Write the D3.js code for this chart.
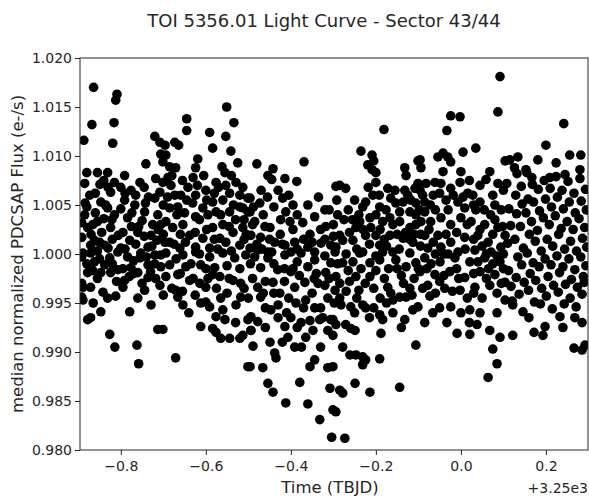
<!DOCTYPE html>
<html>
<head>
<meta charset="utf-8">
<script src="https://cdn.jsdelivr.net/npm/d3@7"></script>
<style>
  body { margin: 0; background: #fff; }
  text { font-family: "DejaVu Sans", sans-serif; fill: #262626; }
</style>
</head>
<body>
<svg id="chart" width="589" height="498"></svg>
<script>
// time offsets from 3250 TBJD, median normalized flux
const lightCurve = [
  [-0.864,1.0170],[-0.809,1.0163],[-0.812,1.0157],[-0.868,1.0132],[-0.816,1.0134],[-0.887,1.0116],[-0.819,1.0113],
  [-0.720,1.0120],[-0.708,1.0114],[-0.706,1.0102],[-0.741,1.0092],[-0.880,1.0083],[-0.855,1.0083],[-0.831,1.0083],
  [-0.791,1.0080],[-0.849,1.0071],[-0.755,1.0073],[-0.776,1.0065],[-0.718,1.0077],[-0.701,1.0073],[-0.873,1.0060],
  [-0.824,1.0063],[-0.708,1.0063],[-0.720,1.0057],[-0.885,1.0040],[-0.847,1.0053],[-0.831,1.0047],[-0.800,1.0046],
  [-0.855,1.0033],[-0.784,1.0037],[-0.744,1.0043],[-0.713,1.0040],[-0.706,1.0030],[-0.878,1.0027],[-0.824,1.0027],
  [-0.760,1.0022],[-0.729,1.0019],[-0.871,1.0009],[-0.800,1.0006],[-0.736,1.0007],[-0.696,1.0012],[-0.889,1.0001],
  [-0.871,1.0001],[-0.807,1.0002],[-0.784,0.9997],[-0.753,1.0001],[-0.706,0.9999],[-0.838,0.9989],[-0.807,0.9984],
  [-0.776,0.9986],[-0.736,0.9989],[-0.706,0.9987],[-0.878,0.9981],[-0.847,0.9981],[-0.824,0.9981],[-0.760,0.9981],
  [-0.889,0.9966],[-0.871,0.9966],[-0.889,0.9953],[-0.842,0.9961],[-0.831,0.9955],[-0.795,0.9966],[-0.736,0.9976],
  [-0.729,0.9948],[-0.847,0.9941],[-0.779,0.9941],[-0.878,0.9933],[-0.871,0.9935],[-0.713,0.9923],[-0.826,0.9918],
  [-0.814,0.9905],[-0.762,0.9907],[-0.758,0.9888],[-0.892,1.0032],[-0.892,1.0017],[-0.892,0.9997],[-0.892,0.9970],
  [-0.892,0.9956],[-0.791,1.0055],[-0.767,1.0050],[-0.862,1.0014],[-0.838,1.0009],[-0.779,1.0014],[-0.755,0.9996],
  [-0.720,0.9999],[-0.826,0.9996],[-0.862,0.9992],[-0.791,0.9973],[-0.744,0.9963],[-0.708,0.9968],
  [-0.880,1.0048],[-0.860,1.0042],[-0.840,1.0036],[-0.815,1.0040],[-0.775,1.0028],[-0.750,1.0034],[-0.725,1.0030],
  [-0.870,1.0020],[-0.845,1.0022],[-0.820,1.0015],[-0.795,1.0022],[-0.765,1.0010],[-0.745,1.0018],[-0.715,1.0014],
  [-0.855,1.0003],[-0.830,1.0006],[-0.770,0.9993],[-0.740,0.9997],[-0.720,0.9990],[-0.880,0.9990],[-0.855,0.9975],
  [-0.810,0.9972],[-0.780,0.9977],[-0.750,0.9970],[-0.718,0.9975],[-0.865,0.9950],[-0.812,0.9957],[-0.760,0.9955],
  [-0.700,0.9958],[-0.800,1.0068],[-0.765,1.0060],[-0.735,1.0058],[-0.860,1.0062],[-0.840,1.0075],[-0.815,1.0073],
  [-0.700,1.0050],[-0.700,1.0020],
  [-0.884,1.0052],[-0.866,1.0030],[-0.850,1.0012],[-0.836,1.0050],[-0.821,1.0035],[-0.806,1.0019],[-0.790,1.0005],
  [-0.774,1.0042],[-0.758,1.0028],[-0.742,1.0052],[-0.727,1.0008],[-0.712,1.0025],[-0.866,0.9983],[-0.850,0.9995],
  [-0.820,0.9990],[-0.795,0.9985],[-0.770,0.9980],[-0.730,0.9982],[-0.885,1.0072],[-0.830,1.0068],[-0.790,1.0062],
  [-0.745,1.0068],
  [-0.551,1.0150],[-0.534,1.0134],[-0.645,1.0138],[-0.645,1.0126],[-0.591,1.0124],[-0.553,1.0120],[-0.584,1.0108],
  [-0.541,1.0105],[-0.673,1.0114],[-0.664,1.0111],[-0.525,1.0093],[-0.619,1.0097],[-0.624,1.0088],[-0.562,1.0089],
  [-0.555,1.0083],[-0.696,1.0111],[-0.694,1.0101],[-0.701,1.0094],[-0.685,1.0089],[-0.671,1.0088],[-0.689,1.0078],
  [-0.682,1.0070],[-0.576,1.0073],[-0.642,1.0068],[-0.600,1.0065],[-0.624,1.0060],[-0.553,1.0070],[-0.529,1.0073],
  [-0.513,1.0068],[-0.673,1.0060],[-0.659,1.0060],[-0.584,1.0053],[-0.631,1.0052],[-0.544,1.0062],[-0.520,1.0060],
  [-0.496,1.0057],[-0.685,1.0047],[-0.666,1.0048],[-0.607,1.0047],[-0.576,1.0043],[-0.624,1.0038],[-0.544,1.0043],
  [-0.513,1.0047],[-0.496,1.0043],[-0.694,1.0033],[-0.678,1.0027],[-0.654,1.0030],[-0.638,1.0019],[-0.584,1.0027],
  [-0.560,1.0030],[-0.536,1.0022],[-0.513,1.0027],[-0.607,1.0016],[-0.567,1.0016],[-0.685,1.0012],[-0.661,1.0006],
  [-0.624,1.0007],[-0.591,1.0006],[-0.553,1.0012],[-0.520,1.0009],[-0.496,1.0006],[-0.694,1.0001],[-0.654,0.9999],
  [-0.624,1.0002],[-0.591,0.9997],[-0.560,1.0001],[-0.532,0.9996],[-0.506,0.9999],[-0.685,0.9989],[-0.647,0.9987],
  [-0.612,0.9989],[-0.579,0.9986],[-0.567,0.9977],[-0.638,0.9973],[-0.614,0.9970],[-0.600,0.9966],[-0.584,0.9979],
  [-0.666,0.9979],[-0.694,0.9977],[-0.671,0.9963],[-0.666,0.9956],[-0.654,0.9948],[-0.600,0.9951],[-0.591,0.9946],
  [-0.565,0.9955],[-0.536,0.9973],[-0.518,0.9970],[-0.518,0.9956],[-0.529,0.9948],[-0.576,0.9936],[-0.555,0.9933],
  [-0.612,0.9926],[-0.584,0.9924],[-0.576,0.9920],[-0.565,0.9914],[-0.544,0.9914],[-0.520,0.9914],[-0.513,0.9917],
  [-0.501,0.9933],[-0.494,0.9922],[-0.701,0.9923],[-0.671,0.9894],[-0.501,0.9885],
  [-0.680,1.0080],[-0.655,1.0075],[-0.630,1.0078],[-0.605,1.0080],[-0.580,1.0062],[-0.560,1.0055],[-0.535,1.0050],
  [-0.510,1.0035],[-0.650,1.0042],[-0.615,1.0035],[-0.595,1.0040],[-0.565,1.0040],[-0.530,1.0035],[-0.660,1.0020],
  [-0.625,1.0022],[-0.580,1.0015],[-0.540,1.0003],[-0.510,1.0015],[-0.670,0.9995],[-0.635,0.9990],[-0.600,0.9985],
  [-0.550,0.9988],[-0.520,0.9985],[-0.680,0.9965],[-0.625,0.9958],[-0.575,0.9965],[-0.550,0.9960],[-0.640,0.9940],
  [-0.560,0.9943],[-0.530,0.9930],
  [-0.690,1.0058],[-0.668,1.0040],[-0.645,1.0055],[-0.620,1.0070],[-0.598,1.0055],[-0.570,1.0068],[-0.540,1.0080],
  [-0.520,1.0048],[-0.675,1.0010],[-0.648,1.0012],[-0.615,1.0000],[-0.598,1.0025],[-0.572,1.0005],[-0.545,1.0028],
  [-0.505,1.0020],[-0.660,0.9980],[-0.630,0.9975],[-0.595,0.9975],[-0.545,0.9975],[-0.510,0.9965],[-0.655,0.9962],
  [-0.612,0.9950],
  [-0.369,1.0094],[-0.480,1.0092],[-0.442,1.0087],[-0.454,1.0080],[-0.445,1.0076],[-0.414,1.0077],[-0.386,1.0074],
  [-0.294,1.0069],[-0.419,1.0057],[-0.501,1.0057],[-0.473,1.0052],[-0.320,1.0045],[-0.344,1.0038],[-0.372,1.0032],
  [-0.318,1.0028],[-0.412,1.0043],[-0.424,1.0035],[-0.402,1.0033],[-0.501,1.0043],[-0.485,1.0033],[-0.461,1.0028],
  [-0.449,1.0027],[-0.494,1.0019],[-0.471,1.0017],[-0.438,1.0012],[-0.414,1.0009],[-0.391,1.0012],[-0.360,1.0007],
  [-0.329,1.0011],[-0.306,1.0009],[-0.478,1.0004],[-0.454,1.0002],[-0.400,1.0002],[-0.344,1.0002],[-0.296,1.0002],
  [-0.485,0.9997],[-0.454,0.9996],[-0.414,0.9999],[-0.376,1.0001],[-0.344,0.9994],[-0.306,0.9991],[-0.471,0.9986],
  [-0.431,0.9984],[-0.400,0.9982],[-0.360,0.9987],[-0.318,0.9981],[-0.478,0.9966],[-0.442,0.9971],[-0.426,0.9960],
  [-0.391,0.9966],[-0.367,0.9971],[-0.336,0.9970],[-0.296,0.9963],[-0.471,0.9956],[-0.447,0.9943],[-0.388,0.9950],
  [-0.365,0.9953],[-0.344,0.9945],[-0.313,0.9955],[-0.494,0.9936],[-0.478,0.9931],[-0.414,0.9926],[-0.400,0.9935],
  [-0.376,0.9930],[-0.332,0.9933],[-0.306,0.9933],[-0.313,0.9922],[-0.494,0.9922],[-0.407,0.9915],[-0.365,0.9915],
  [-0.348,0.9922],[-0.489,0.9906],[-0.449,0.9910],[-0.438,0.9899],[-0.435,0.9894],[-0.391,0.9905],[-0.344,0.9892],
  [-0.355,0.9885],[-0.313,0.9884],[-0.496,0.9885],[-0.466,0.9884],[-0.454,0.9868],[-0.442,0.9859],[-0.379,0.9869],
  [-0.308,0.9863],[-0.412,0.9848],[-0.360,0.9847],[-0.301,0.9841],[-0.332,0.9831],[-0.304,0.9813],[-0.273,0.9812],
  [-0.490,1.0030],[-0.465,1.0040],[-0.440,1.0048],[-0.395,1.0050],[-0.355,1.0020],[-0.330,1.0025],[-0.300,1.0030],
  [-0.480,1.0010],[-0.450,1.0015],[-0.425,1.0020],[-0.395,1.0025],[-0.370,1.0015],[-0.320,0.9998],[-0.495,0.9990],
  [-0.440,0.9990],[-0.415,0.9985],[-0.385,0.9992],[-0.340,0.9980],[-0.490,0.9975],[-0.460,0.9972],[-0.415,0.9972],
  [-0.380,0.9978],[-0.350,0.9960],[-0.320,0.9968],[-0.500,0.9955],[-0.460,0.9945],[-0.430,0.9948],[-0.405,0.9955],
  [-0.330,0.9945],[-0.460,0.9925],[-0.430,0.9935],[-0.385,0.9925],[-0.355,0.9932],[-0.420,0.9910],[-0.375,0.9905],
  [-0.330,0.9905],
  [-0.488,1.0048],[-0.470,1.0065],[-0.455,1.0058],[-0.430,1.0065],[-0.405,1.0060],[-0.385,1.0040],[-0.360,1.0050],
  [-0.335,1.0058],[-0.310,1.0045],[-0.468,1.0005],[-0.445,1.0002],[-0.420,1.0010],[-0.385,1.0005],[-0.350,1.0012],
  [-0.320,1.0015],[-0.300,1.0018],[-0.465,0.9960],[-0.440,0.9960],[-0.410,0.9940],[-0.370,0.9945],[-0.345,0.9975],
  [-0.310,0.9975],[-0.298,0.9950],[-0.325,0.9935],[-0.395,0.9985],
  [-0.181,1.0127],[-0.235,1.0105],[-0.209,1.0101],[-0.205,1.0095],[-0.219,1.0091],[-0.209,1.0086],[-0.200,1.0083],
  [-0.132,1.0088],[-0.129,1.0080],[-0.101,1.0095],[-0.094,1.0088],[-0.285,1.0070],[-0.271,1.0067],[-0.200,1.0073],
  [-0.172,1.0067],[-0.132,1.0065],[-0.108,1.0067],[-0.096,1.0065],[-0.207,1.0060],[-0.224,1.0053],[-0.231,1.0048],
  [-0.165,1.0057],[-0.153,1.0052],[-0.136,1.0053],[-0.118,1.0055],[-0.106,1.0052],[-0.191,1.0048],[-0.176,1.0045],
  [-0.200,1.0040],[-0.167,1.0037],[-0.144,1.0043],[-0.120,1.0043],[-0.106,1.0040],[-0.214,1.0037],[-0.238,1.0033],
  [-0.247,1.0027],[-0.212,1.0027],[-0.184,1.0033],[-0.144,1.0033],[-0.120,1.0027],[-0.106,1.0030],[-0.285,1.0019],
  [-0.278,1.0014],[-0.254,1.0014],[-0.224,1.0019],[-0.200,1.0019],[-0.167,1.0019],[-0.136,1.0016],[-0.113,1.0012],
  [-0.191,1.0009],[-0.160,1.0002],[-0.231,1.0002],[-0.294,1.0007],
  [-0.285,0.9970],[-0.294,0.9977],[-0.247,0.9977],[-0.278,0.9991],[-0.254,0.9992],[-0.214,0.9991],[-0.191,0.9994],
  [-0.153,0.9994],[-0.129,0.9987],[-0.106,0.9991],[-0.214,0.9977],[-0.172,0.9966],[-0.165,0.9960],[-0.160,0.9953],
  [-0.144,0.9956],[-0.129,0.9956],[-0.113,0.9943],[-0.101,0.9946],[-0.282,0.9948],[-0.259,0.9946],[-0.231,0.9948],
  [-0.224,0.9945],[-0.191,0.9938],[-0.184,0.9933],[-0.132,0.9933],[-0.301,0.9933],[-0.294,0.9928],[-0.271,0.9928],
  [-0.259,0.9924],[-0.249,0.9922],[-0.188,0.9919],[-0.301,0.9917],[-0.106,0.9907],[-0.278,0.9905],[-0.261,0.9897],
  [-0.247,0.9897],[-0.231,0.9895],[-0.224,0.9892],[-0.231,0.9887],[-0.191,0.9893],[-0.301,0.9885],[-0.249,0.9868],
  [-0.285,0.9861],[-0.278,0.9858],[-0.214,0.9859],[-0.144,0.9864],[-0.294,0.9839],[-0.238,1.0001],[-0.184,1.0002],
  [-0.120,1.0001],
  [-0.290,1.0040],[-0.265,1.0045],[-0.250,1.0055],[-0.255,1.0035],[-0.230,1.0025],[-0.190,1.0025],[-0.160,1.0030],
  [-0.130,1.0022],[-0.270,1.0000],[-0.245,1.0005],[-0.215,1.0010],[-0.175,1.0008],[-0.145,1.0005],[-0.120,1.0015],
  [-0.265,0.9983],[-0.235,0.9985],[-0.200,0.9983],[-0.170,0.9985],[-0.140,0.9978],[-0.110,0.9975],[-0.270,0.9962],
  [-0.240,0.9963],[-0.205,0.9965],[-0.190,0.9955],[-0.120,0.9965],[-0.250,0.9940],[-0.215,0.9935],[-0.160,0.9940],
  [-0.140,0.9925],
  [-0.292,1.0055],[-0.275,1.0035],[-0.262,1.0022],[-0.240,1.0040],[-0.218,1.0068],[-0.192,1.0060],[-0.180,1.0015],
  [-0.155,1.0065],[-0.150,1.0020],[-0.125,1.0060],[-0.110,1.0020],[-0.290,0.9990],[-0.262,0.9972],[-0.225,0.9970],
  [-0.200,0.9998],[-0.180,0.9975],[-0.150,0.9985],[-0.135,0.9970],[-0.115,0.9958],[-0.100,0.9985],[-0.285,0.9955],
  [-0.245,0.9955],[-0.205,0.9945],[-0.175,0.9950],
  [0.092,1.0181],[0.087,1.0145],[-0.024,1.0141],[-0.002,1.0140],[-0.033,1.0126],[0.035,1.0108],[0.005,1.0104],
  [-0.042,1.0103],[-0.054,1.0099],[-0.031,1.0099],[-0.024,1.0094],[-0.096,1.0096],[0.104,1.0095],[-0.042,1.0084],
  [0.000,1.0084],[0.068,1.0084],[0.059,1.0076],[0.087,1.0072],[-0.101,1.0072],[-0.082,1.0072],[-0.061,1.0073],
  [-0.047,1.0072],[-0.024,1.0067],[-0.002,1.0073],[0.016,1.0062],[0.028,1.0060],[0.045,1.0053],[-0.007,1.0053],
  [0.009,1.0047],[-0.085,1.0053],[-0.085,1.0043],[-0.094,1.0033],[-0.071,1.0033],[-0.047,1.0037],[-0.024,1.0030],
  [0.000,1.0037],[0.024,1.0033],[0.056,1.0030],[0.087,1.0027],[0.104,1.0019],[-0.085,1.0019],[-0.054,1.0019],
  [-0.024,1.0012],[0.009,1.0017],[0.040,1.0019],[0.064,1.0012],[0.094,1.0007],[-0.078,1.0006],[-0.047,1.0007],
  [-0.007,1.0002],[0.033,1.0004],[0.071,1.0002],
  [-0.085,0.9996],[-0.049,0.9992],[-0.014,0.9996],[0.021,0.9992],[0.056,0.9996],[0.092,0.9992],[-0.096,0.9982],
  [-0.061,0.9979],[-0.026,0.9982],[0.009,0.9976],[0.045,0.9982],[0.080,0.9979],[-0.078,0.9968],[-0.038,0.9965],
  [-0.002,0.9963],[0.033,0.9966],[0.068,0.9968],[0.104,0.9971],[-0.073,0.9957],[-0.033,0.9930],[-0.009,0.9919],
  [0.021,0.9918],[0.038,0.9928],[-0.024,0.9946],[-0.066,0.9940],[0.068,0.9922],[0.064,0.9874],[0.085,0.9888],
  [0.075,0.9903],[0.021,0.9943],[0.104,0.9953],
  [-0.090,1.0060],[-0.065,1.0060],[-0.035,1.0055],[0.020,1.0075],[0.045,1.0070],[0.075,1.0060],[0.100,1.0065],
  [-0.060,1.0045],[-0.030,1.0045],[0.035,1.0045],[0.070,1.0040],[0.095,1.0045],[-0.075,1.0025],[-0.010,1.0022],
  [0.045,1.0025],[0.075,1.0020],[-0.095,1.0008],[-0.060,1.0000],[-0.030,1.0000],[0.010,1.0005],[0.050,1.0008],
  [0.085,0.9998],[-0.080,0.9985],[-0.040,0.9978],[-0.010,0.9985],[0.030,0.9980],[0.065,0.9985],[0.100,0.9985],
  [-0.060,0.9960],[-0.020,0.9962],[0.015,0.9955],[0.050,0.9955],[0.085,0.9960],[-0.050,0.9945],[0.000,0.9940],
  [0.045,0.9940],[0.085,0.9940],[-0.085,0.9930],[0.020,0.9930],
  [-0.098,1.0045],[-0.072,1.0050],[-0.050,1.0062],[-0.018,1.0060],[0.005,1.0058],[0.030,1.0050],[0.055,1.0045],
  [0.080,1.0050],[-0.095,1.0020],[-0.065,1.0012],[-0.035,1.0020],[0.015,1.0030],[0.030,1.0015],[0.060,1.0000],
  [0.080,1.0035],[0.098,1.0028],[-0.070,0.9990],[-0.040,1.0000],[-0.005,0.9975],[0.040,0.9992],[0.075,0.9990],
  [0.100,1.0000],[-0.090,0.9965],[-0.050,0.9972],[0.030,0.9960],[0.060,0.9975],[0.095,0.9970],
  [0.242,1.0133],[0.200,1.0111],[0.181,1.0096],[0.224,1.0093],[0.256,1.0101],[0.282,1.0101],[0.115,1.0096],
  [0.134,1.0099],[0.153,1.0086],[0.132,1.0082],[0.167,1.0078],[0.209,1.0078],[0.245,1.0081],[0.280,1.0086],
  [0.122,0.9948],[0.233,0.9936],[0.268,0.9935],[0.198,0.9926],[0.193,0.9917],[0.172,0.9920],[0.122,0.9917],
  [0.092,0.9915],[0.285,0.9902],[0.292,0.9907],[0.266,0.9904],[0.240,0.9925],[0.285,0.9930],[0.160,0.9935],
  [0.108,1.0072],[0.113,1.0046],[0.117,1.0029],[0.110,1.0011],[0.112,0.9983],[0.118,0.9967],[0.121,0.9952],
  [0.126,1.0088],[0.129,1.0060],[0.131,1.0041],[0.127,1.0015],[0.134,0.9997],[0.130,0.9976],[0.137,0.9959],
  [0.142,1.0069],[0.144,1.0051],[0.140,1.0028],[0.147,1.0006],[0.143,0.9989],[0.149,0.9971],[0.146,0.9941],
  [0.155,1.0083],[0.158,1.0056],[0.153,1.0042],[0.161,1.0020],[0.156,1.0001],[0.163,0.9980],[0.159,0.9963],
  [0.168,1.0071],[0.171,1.0053],[0.166,1.0033],[0.175,1.0013],[0.170,0.9991],[0.176,0.9973],[0.173,0.9951],
  [0.182,1.0066],[0.185,1.0044],[0.180,1.0024],[0.189,1.0003],[0.184,0.9987],[0.190,0.9965],[0.187,0.9949],
  [0.196,1.0075],[0.199,1.0056],[0.194,1.0037],[0.203,1.0015],[0.198,0.9995],[0.205,0.9977],[0.201,0.9957],
  [0.210,1.0067],[0.213,1.0048],[0.208,1.0030],[0.216,1.0008],[0.212,0.9989],[0.218,0.9968],[0.215,0.9944],
  [0.224,1.0079],[0.227,1.0058],[0.222,1.0039],[0.230,1.0020],[0.226,0.9998],[0.232,0.9981],[0.229,0.9961],
  [0.238,1.0065],[0.241,1.0046],[0.236,1.0026],[0.244,1.0005],[0.240,0.9987],[0.246,0.9969],[0.243,0.9949],
  [0.252,1.0074],[0.255,1.0053],[0.250,1.0033],[0.258,1.0013],[0.254,0.9995],[0.260,0.9974],[0.257,0.9955],
  [0.266,1.0062],[0.269,1.0042],[0.264,1.0025],[0.272,1.0003],[0.268,0.9984],[0.274,0.9966],[0.271,0.9946],
  [0.280,1.0077],[0.283,1.0054],[0.278,1.0036],[0.286,1.0016],[0.282,0.9997],[0.288,0.9977],[0.285,0.9959],
  [0.293,1.0066],[0.295,1.0045],[0.291,1.0027],[0.296,1.0007],[0.294,0.9988],[0.290,0.9971]
];

const timeTicks = [-0.8, -0.6, -0.4, -0.2, 0.0, 0.2];
const fluxTicks = [0.980, 0.985, 0.990, 0.995, 1.000, 1.005, 1.010, 1.015, 1.020];
const timeOffsetLabel = '+3.25e3';

const svg = d3.select('#chart');
const plotLeft = 80, plotRight = 588, plotTop = 58, plotBottom = 450;

const x = d3.scaleLinear().domain([-0.896, 0.299]).range([plotLeft, plotRight]);
const y = d3.scaleLinear().domain([0.980, 1.020]).range([plotBottom, plotTop]);

svg.append('clipPath').attr('id', 'plotclip')
  .append('rect').attr('x', plotLeft).attr('y', plotTop)
  .attr('width', plotRight - plotLeft).attr('height', plotBottom - plotTop);

svg.append('g').attr('clip-path', 'url(#plotclip)')
  .selectAll('circle').data(lightCurve).enter().append('circle')
  .attr('cx', d => x(d[0])).attr('cy', d => y(d[1])).attr('r', 4.8).attr('fill', '#000');

const fmtX = d => d3.format('.1f')(d).replace('-', '\u2212');
const xAxis = svg.append('g').attr('transform', 'translate(0,' + plotBottom + ')')
  .call(d3.axisBottom(x).tickValues(timeTicks).tickFormat(fmtX).tickSize(5).tickPadding(6));
const yAxis = svg.append('g').attr('transform', 'translate(' + plotLeft + ',0)')
  .call(d3.axisLeft(y).tickValues(fluxTicks).tickFormat(d3.format('.3f')).tickSize(5).tickPadding(3));

[xAxis, yAxis].forEach(a => {
  a.select('.domain').remove();
  a.selectAll('text').style('font-size', '14px').style('font-family', '"DejaVu Sans", sans-serif').attr('fill', '#262626');
  a.selectAll('line').attr('stroke', '#262626');
});

svg.append('rect').attr('x', plotLeft).attr('y', plotTop)
  .attr('width', plotRight - plotLeft).attr('height', plotBottom - plotTop)
  .attr('fill', 'none').attr('stroke', '#262626').attr('stroke-width', 1);

svg.append('text').text('TOI 5356.01 Light Curve - Sector 43/44')
  .attr('x', 324).attr('y', 27).attr('text-anchor', 'middle').style('font-size', '18px');
svg.append('text').text('Time (TBJD)')
  .attr('x', 330).attr('y', 493).attr('text-anchor', 'middle').style('font-size', '16.5px');
svg.append('text').text(timeOffsetLabel)
  .attr('x', 588).attr('y', 493).attr('text-anchor', 'end').style('font-size', '14px');
svg.append('text').text('median normalized PDCSAP Flux (e-/s)')
  .attr('transform', 'translate(23,254) rotate(-90)').attr('text-anchor', 'middle').style('font-size', '16.5px');
</script>
</body>
</html>
